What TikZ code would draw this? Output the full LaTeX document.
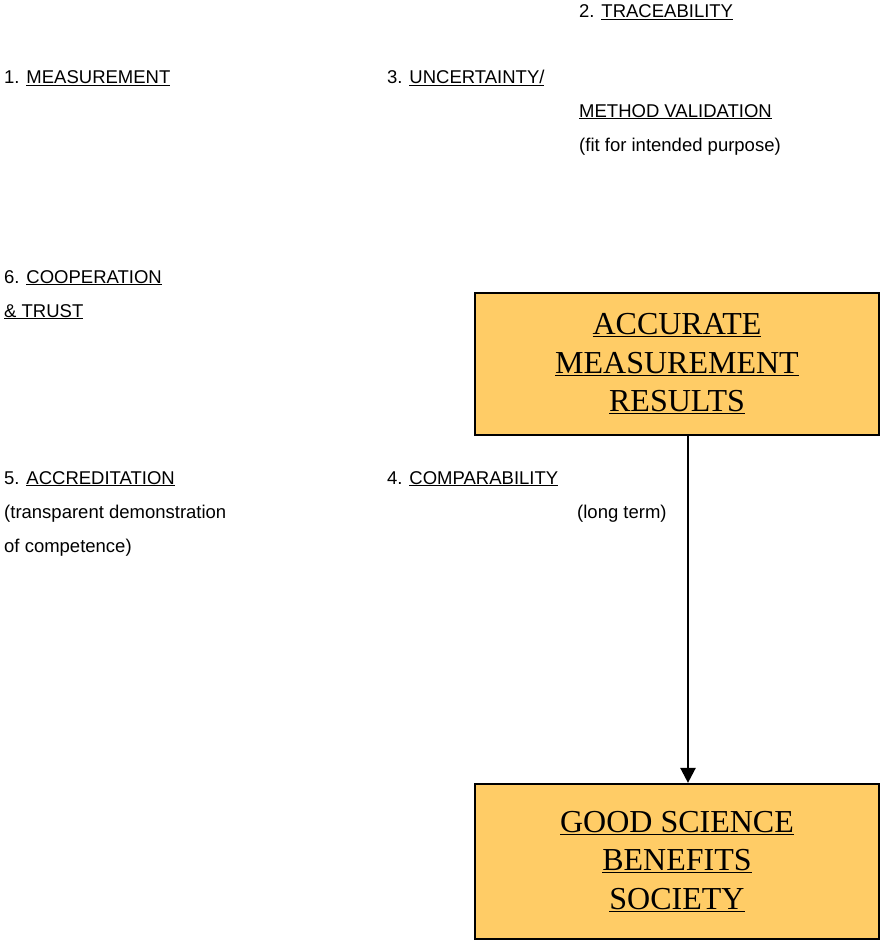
\documentclass[tikz,border=0pt]{standalone}
\usepackage{fontspec}
\setmainfont{Liberation Sans}
\newfontfamily\boxfont{Liberation Serif}
\usetikzlibrary{
  arrows.meta,
  positioning
}
\definecolor{boxfill}{HTML}{FFCC66}

\begin{document}
\begin{tikzpicture}[x=1pt,y=-1pt,
  lbl/.style={anchor=base west,inner sep=0pt,align=left,font=\fontsize{18.5}{34}\selectfont},
  resbox/.style={rectangle,draw=black,line width=2.2pt,fill=boxfill,minimum width=404pt,
    font=\boxfont\fontsize{32}{38.5}\selectfont,align=center}]
  \useasboundingbox (0,0) rectangle (882,942);
  % labels round the top box (base = baseline of the last line)
  \node[lbl] (trace) at (579,18) {2. \underline{TRACEABILITY}};
  \node[lbl] (meas) at (4,84) {1. \underline{MEASUREMENT}};
  \node[lbl] (unc) at (387,84) {3. \underline{UNCERTAINTY/}};
  \node[lbl] (valid) at (579,151) {\underline{METHOD VALIDATION}\\(fit for intended purpose)};
  \node[lbl] (coop) at (4,317) {6. \underline{COOPERATION}\\\underline{\& TRUST}};
  \node[lbl] (accr) at (4,552) {5. \underline{ACCREDITATION}\\(transparent demonstration\\of competence)};
  \node[lbl] (comp) at (387,484) {4. \underline{COMPARABILITY}};
  \node[lbl] (long) at (577,518) {(long term)};

  % the two boxes
  \node[resbox,minimum height=142pt] (acc) at (677,364)
    {\underline{ACCURATE}\\\underline{MEASUREMENT}\\\underline{RESULTS}};
  \node[resbox,minimum height=155pt] (soc) at (677,861.5)
    {\underline{GOOD SCIENCE}\\\underline{BENEFITS}\\\underline{SOCIETY}};
  \draw[line width=2.4pt,-{Triangle[width=15pt,length=15pt]}] ([xshift=11pt]acc.south) -- ([xshift=11pt]soc.north);
\end{tikzpicture}
\end{document}
